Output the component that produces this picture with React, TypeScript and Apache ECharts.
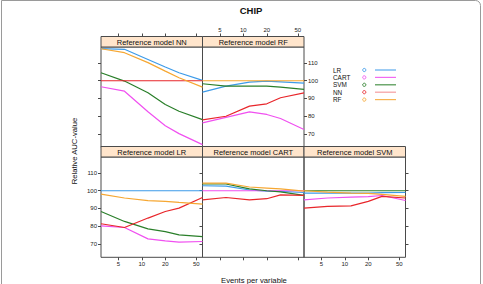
import React, { useEffect, useRef } from "react";
import * as echarts from "echarts";

// Events per variable at which every model was evaluated
const EPV = [3, 6, 12, 20, 30, 60];
const X_TICKS = [5, 10, 20, 50];
const Y_TICKS = [70, 80, 90, 100, 110];

const MODELS = ["LR", "CART", "SVM", "NN", "RF"];
const COLORS = ["#3d9be9", "#f050f0", "#2a7f2a", "#e8262b", "#f6a732"];

// Relative AUC (%) of each model against the reference model of the panel
const refNN: Record<string, number[]> = {
  LR: [118.1, 117.7, 112.0, 107.7, 104.5, 100.2],
  CART: [96.6, 94.1, 82.5, 74.6, 70.2, 64.0],
  SVM: [104.5, 99.8, 93.2, 86.6, 82.8, 78.1],
  NN: [100, 100, 100, 100, 100, 100],
  RF: [118.0, 115.8, 110.2, 105.4, 101.7, 96.4],
};
const refRF: Record<string, number[]> = {
  LR: [93.6, 97.0, 99.2, 99.8, 99.4, 98.7],
  CART: [76.3, 79.4, 82.5, 81.0, 78.7, 72.5],
  SVM: [98.3, 97.0, 97.0, 97.0, 96.4, 95.1],
  NN: [78.0, 80.0, 85.7, 87.0, 90.4, 93.2],
  RF: [100, 100, 100, 100, 100, 100],
};
const refLR: Record<string, number[]> = {
  LR: [100, 100, 100, 100, 100, 100],
  CART: [80.2, 79.3, 72.9, 71.8, 71.0, 71.4],
  SVM: [88.3, 82.7, 78.5, 77.0, 75.1, 74.2],
  NN: [81.4, 79.3, 84.6, 88.3, 90.2, 96.2],
  RF: [98.1, 95.9, 94.4, 94.0, 93.4, 92.5],
};
const refCART: Record<string, number[]> = {
  LR: [102.8, 102.6, 100.4, 99.7, 99.6, 99.0],
  CART: [100, 100, 100, 100, 100, 100],
  SVM: [103.8, 103.8, 101.0, 100.0, 99.4, 97.4],
  NN: [94.9, 96.2, 94.9, 95.5, 97.7, 97.4],
  RF: [104.3, 104.3, 102.1, 101.5, 101.0, 99.8],
};
const refSVM: Record<string, number[]> = {
  LR: [98.7, 98.7, 98.7, 98.7, 98.9, 99.0],
  CART: [94.9, 95.9, 96.4, 96.7, 97.3, 94.5],
  SVM: [100, 100, 100, 100, 100, 100],
  NN: [90.2, 91.2, 91.5, 94.0, 96.8, 95.9],
  RF: [100.0, 99.2, 98.7, 98.5, 98.0, 96.8],
};

const FONT = "Liberation Sans, Arial, Helvetica, sans-serif";
const BORDER = "#4a4a4a";
const STRIP_FILL = "#ffe5cc";

const COL_LEFT = [101, 202.5, 304];
const COL_W = 101.5;
const ROW_TOP = [47, 157];
const ROW_H = 100.3;
const STRIP_H = 10.5;

const LEGEND_TOP = 70;
const LEGEND_STEP = 7.4;

type Panel = {
  title: string;
  data: Record<string, number[]>;
  col: number;
  row: number;
  xSide: "top" | "bottom";
  xLabels: boolean;
  ySide: "left" | "right";
  yLabels: boolean;
};

const PANELS: Panel[] = [
  { title: "Reference model NN", data: refNN, col: 0, row: 0, xSide: "top", xLabels: false, ySide: "left", yLabels: false },
  { title: "Reference model RF", data: refRF, col: 1, row: 0, xSide: "top", xLabels: true, ySide: "right", yLabels: true },
  { title: "Reference model LR", data: refLR, col: 0, row: 1, xSide: "bottom", xLabels: true, ySide: "left", yLabels: true },
  { title: "Reference model CART", data: refCART, col: 1, row: 1, xSide: "bottom", xLabels: false, ySide: "left", yLabels: false },
  { title: "Reference model SVM", data: refSVM, col: 2, row: 1, xSide: "bottom", xLabels: true, ySide: "right", yLabels: false },
];

const X_MIN = Math.log10(3);
const X_MAX = Math.log10(60);
const Y_MIN = 62.5;
const Y_MAX = 119;

function buildOption() {
  const xTickVals = X_TICKS.map((v) => Math.log10(v));

  const grid = PANELS.map((p) => ({
    left: COL_LEFT[p.col],
    top: ROW_TOP[p.row],
    width: COL_W,
    height: ROW_H,
    show: true,
    borderColor: BORDER,
    borderWidth: 1,
    backgroundColor: "transparent",
  }));

  const xAxis = PANELS.map((p, i) => ({
    gridIndex: i,
    type: "value",
    min: X_MIN,
    max: X_MAX,
    position: p.xSide,
    offset: p.xSide === "top" ? STRIP_H : 0,
    axisLine: { show: false },
    splitLine: { show: false },
    axisTick: {
      show: true,
      inside: false,
      length: 3,
      customValues: xTickVals,
      lineStyle: { color: BORDER, width: 1 },
    },
    axisLabel: {
      show: p.xLabels,
      customValues: xTickVals,
      margin: 4,
      fontSize: 6,
      fontFamily: FONT,
      color: "#222",
      formatter: (v: number) => String(Math.round(Math.pow(10, v))),
    },
  }));

  const yAxis = PANELS.map((p, i) => ({
    gridIndex: i,
    type: "value",
    min: Y_MIN,
    max: Y_MAX,
    position: p.ySide,
    axisLine: { show: false },
    splitLine: { show: false },
    axisTick: {
      show: true,
      inside: false,
      length: 3,
      customValues: Y_TICKS,
      lineStyle: { color: BORDER, width: 1 },
    },
    axisLabel: {
      show: p.yLabels,
      customValues: Y_TICKS,
      margin: 4,
      fontSize: 6,
      fontFamily: FONT,
      color: "#222",
    },
  }));

  const series: any[] = [];
  PANELS.forEach((p, i) => {
    MODELS.forEach((m, k) => {
      series.push({
        type: "line",
        name: m,
        xAxisIndex: i,
        yAxisIndex: i,
        showSymbol: false,
        clip: true,
        silent: true,
        lineStyle: { color: COLORS[k], width: 1.2 },
        itemStyle: { color: COLORS[k] },
        data: EPV.map((e, j) => [Math.log10(e), p.data[m][j]]),
      });
    });
  });

  const graphic: any[] = [];

  // outer frame
  graphic.push({
    type: "rect",
    shape: { x: 1.5, y: 0.5, width: 479, height: 320, r: [0, 5, 0, 0] },
    style: { fill: "none", stroke: "#9a9a9a", lineWidth: 1 },
    silent: true,
  });

  // panel strips
  PANELS.forEach((p) => {
    const x = COL_LEFT[p.col];
    const y = ROW_TOP[p.row] - STRIP_H;
    graphic.push({
      type: "rect",
      shape: { x, y, width: COL_W, height: STRIP_H },
      style: { fill: STRIP_FILL, stroke: BORDER, lineWidth: 1 },
      z: 10,
      silent: true,
    });
    graphic.push({
      type: "text",
      x: x + COL_W / 2,
      y: y + STRIP_H / 2 + 0.5,
      style: {
        text: p.title,
        fontSize: 7.5,
        fontFamily: FONT,
        fill: "#111",
        align: "center",
        verticalAlign: "middle",
      },
      z: 11,
      silent: true,
    });
  });

  // legend: name, open circle, line sample
  MODELS.forEach((m, k) => {
    const y = LEGEND_TOP + LEGEND_STEP * k;
    graphic.push({
      type: "text",
      x: 333,
      y,
      style: {
        text: m,
        fontSize: 6.4,
        fontFamily: FONT,
        fill: "#111",
        align: "left",
        verticalAlign: "middle",
      },
      silent: true,
    });
    graphic.push({
      type: "circle",
      shape: { cx: 364.3, cy: y, r: 1.6 },
      style: { fill: "none", stroke: COLORS[k], lineWidth: 0.9 },
      silent: true,
    });
    graphic.push({
      type: "line",
      shape: { x1: 375, y1: y, x2: 396, y2: y },
      style: { stroke: COLORS[k], lineWidth: 1.2, opacity: m === "NN" ? 0.45 : 0.85 },
      silent: true,
    });
  });

  // main title and axis titles
  graphic.push({
    type: "text",
    x: 251,
    y: 10.7,
    style: { text: "CHIP", fontSize: 9.5, fontWeight: "bold", fontFamily: FONT, fill: "#111", align: "center", verticalAlign: "middle" },
    silent: true,
  });
  graphic.push({
    type: "text",
    x: 254,
    y: 280,
    style: { text: "Events per variable", fontSize: 7.7, fontFamily: FONT, fill: "#111", align: "center", verticalAlign: "middle" },
    silent: true,
  });
  graphic.push({
    type: "text",
    x: 74,
    y: 151,
    rotation: Math.PI / 2,
    style: { text: "Relative AUC-value", fontSize: 7.7, fontFamily: FONT, fill: "#111", align: "center", verticalAlign: "middle" },
    silent: true,
  });

  return {
    animation: false,
    backgroundColor: "#ffffff",
    grid,
    xAxis,
    yAxis,
    series,
    graphic,
  };
}

export default function App() {
  const ref = useRef<HTMLDivElement>(null);

  useEffect(() => {
    if (!ref.current) return;
    const chart = echarts.init(ref.current, null, { renderer: "svg" });
    chart.setOption(buildOption() as any);
    return () => chart.dispose();
  }, []);

  return (
    <div
      ref={ref}
      style={{ position: "absolute", left: 0, top: 0, width: 483, height: 284 }}
    />
  );
}
